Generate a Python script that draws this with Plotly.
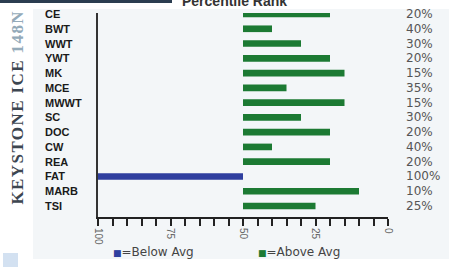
import plotly.graph_objects as go

categories = ["CE", "BWT", "WWT", "YWT", "MK", "MCE", "MWWT", "SC", "DOC", "CW", "REA", "FAT", "MARB", "TSI"]
percentiles = [20, 40, 30, 20, 15, 35, 15, 30, 20, 40, 20, 100, 10, 25]
pct_labels = ["20%", "40%", "30%", "20%", "15%", "35%", "15%", "30%", "20%", "40%", "20%", "100%", "10%", "25%"]
average = 50
tick_vals = [100, 75, 50, 25, 0]
tick_text = ["100", "75", "50", "25", "0"]

BLUE = "#2f3f9f"
GREEN = "#1c7a33"

W, H = 449, 267
L, R, T, B = 98, 61, 13, 50
PW, PH = W - L - R, H - T - B


def px(xp):
    return (xp - L) / PW


def py(yp):
    return (H - B - yp) / PH


below = [(c, v) for c, v in zip(categories, percentiles) if v > average]
above = [(c, v) for c, v in zip(categories, percentiles) if v <= average]

fig = go.Figure()
fig.add_trace(go.Bar(
    orientation="h",
    y=[c for c, v in below], x=[v - average for c, v in below], base=average,
    marker=dict(color=BLUE, line=dict(width=0)), width=0.45, name="=Below Avg",
))
fig.add_trace(go.Bar(
    orientation="h",
    y=[c for c, v in above], x=[v - average for c, v in above], base=average,
    marker=dict(color=GREEN, line=dict(width=0)), width=0.45, name="=Above Avg",
))

annotations = []
for c, lab in zip(categories, pct_labels):
    annotations.append(dict(xref="paper", yref="y", x=px(43), y=c, text=c, showarrow=False,
                            xanchor="left", yanchor="middle",
                            font=dict(family="Liberation Sans", size=11, color="#1a1a1a", weight="bold")))
    annotations.append(dict(xref="paper", yref="y", x=px(404), y=c, text=lab, showarrow=False,
                            xanchor="left", yanchor="middle",
                            font=dict(family="DejaVu Sans", size=12, color="#555555")))

annotations += [
    dict(xref="paper", yref="paper", x=px(234), y=py(11), text="<b>Percentile Rank</b>", showarrow=False,
         xanchor="center", yanchor="bottom", font=dict(family="Liberation Sans", size=14, color="#333333")),
    dict(xref="paper", yref="paper", x=px(17), y=py(107.5), textangle=-90,
         text="<span style='letter-spacing:1.4px'><b>KEYSTONE ICE <span style='color:#94aab9'>148N</span></b></span>",
         showarrow=False, xanchor="center", yanchor="middle",
         font=dict(family="Liberation Serif", size=17, color="#3d4650")),
    dict(xref="paper", yref="paper", x=px(111), y=py(252),
         text=f"<span style='color:{BLUE};font-size:9px'>■</span>=Below Avg", showarrow=False,
         xanchor="left", yanchor="middle", font=dict(family="DejaVu Sans", size=12, color="#444444")),
    dict(xref="paper", yref="paper", x=px(256), y=py(252),
         text=f"<span style='color:{GREEN};font-size:9px'>■</span>=Above Avg", showarrow=False,
         xanchor="left", yanchor="middle", font=dict(family="DejaVu Sans", size=12, color="#444444")),
]

shapes = [
    dict(type="rect", xref="paper", yref="paper", x0=px(33), x1=px(449), y0=py(259), y1=py(9),
         fillcolor="#f3f6f8", line=dict(width=0), layer="below"),
    dict(type="rect", xref="paper", yref="paper", x0=px(0), x1=px(172), y0=py(3), y1=py(0),
         fillcolor="#2b3d50", line=dict(width=0), layer="below"),
    dict(type="rect", xref="paper", yref="paper", x0=px(3), x1=px(18), y0=py(267), y1=py(253),
         fillcolor="#d3e1f1", line=dict(width=0), layer="below"),
]

fig.update_layout(
    width=W, height=H,
    margin=dict(l=L, r=R, t=T, b=B, pad=0),
    paper_bgcolor="white", plot_bgcolor="rgba(0,0,0,0)",
    showlegend=False, barmode="overlay",
    annotations=annotations, shapes=shapes,
    xaxis=dict(range=[100, 0], tickvals=tick_vals, ticktext=tick_text, tickangle=90,
               ticks="outside", ticklen=7, tickwidth=1.5, tickcolor="#222222",
               minor=dict(dtick=5, tick0=0, ticks="outside", ticklen=7, tickwidth=1.5, tickcolor="#222222"),
               showline=True, linecolor="#222222", linewidth=2, showgrid=False, zeroline=False,
               tickfont=dict(family="Liberation Sans", size=10, color="#666666")),
    yaxis=dict(categoryorder="array", categoryarray=categories, range=[13.745, -0.068],
               showticklabels=False, ticks="", showline=True, linecolor="#333333", linewidth=2,
               showgrid=False, zeroline=False),
)

fig.write_html("out.html", config={"displayModeBar": False},
               post_script="document.body.style.margin='0';document.body.style.overflow='hidden';")
